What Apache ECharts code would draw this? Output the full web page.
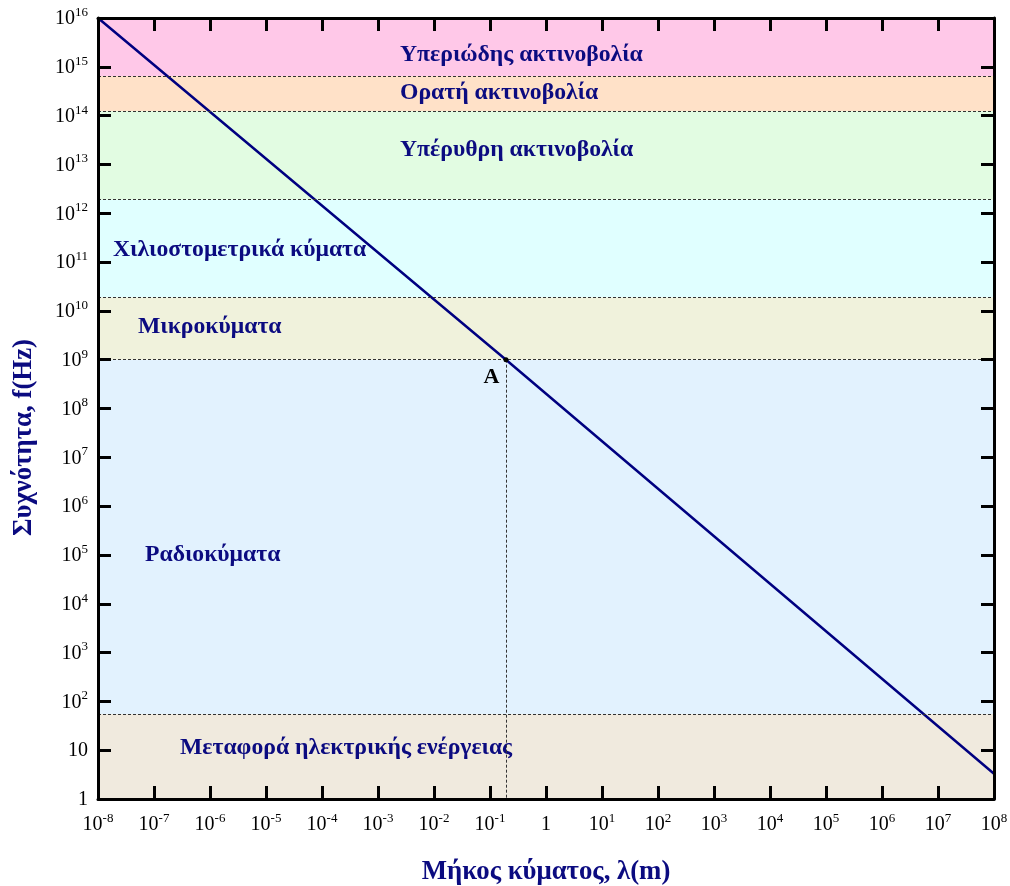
<!DOCTYPE html>
<html>
<head>
<meta charset="utf-8">
<script src="https://cdn.jsdelivr.net/npm/echarts@6/dist/echarts.min.js"></script>
<style>
html,body{margin:0;padding:0;background:#fff;}
#chart{width:1010px;height:886px;}
</style>
</head>
<body>
<div id="chart"></div>
<script>
// ---------- DATA ----------
// Wavelength (m) and frequency (Hz) of the plotted line
var lineLambda = [1e-8, 0.193, 1e8];
var lineFreq   = [1e16, 1e9, 3.3];

// Point A
var pointA = [0.193, 1e9];

// Spectrum band boundaries (Hz), bottom to top
var bandEdges  = [1, 55, 1e9, 1.9e10, 1.9e12, 1.25e14, 6.5e14, 1e16];
var bandColors = ['#F0EADE', '#E2F2FE', '#F0F2DC', '#E0FFFF', '#E2FCE2', '#FFE1C8', '#FFC8E8'];

// Band names and their anchor (lambda, f) in data space
var bandNames = ['Υπεριώδης ακτινοβολία', 'Ορατή ακτινοβολία', 'Υπέρυθρη ακτινοβολία',
                 'Χιλιοστομετρικά κύματα', 'Μικροκύματα', 'Ραδιοκύματα',
                 'Μεταφορά ηλεκτρικής ενέργειας'];
var bandLabelLambda = [Math.pow(10,-2.607), Math.pow(10,-2.607), Math.pow(10,-2.607),
                       Math.pow(10,-7.732), Math.pow(10,-7.286), Math.pow(10,-7.161),
                       Math.pow(10,-6.536)];
var bandLabelFreq   = [Math.pow(10,15.246), Math.pow(10,14.467), Math.pow(10,13.299),
                       Math.pow(10,11.25), Math.pow(10,9.672), Math.pow(10,5.0),
                       Math.pow(10,1.045)];

// Tick labels: [base, exponent] for exponents -8..8 (x) and 0..16 (y)
var xTickLabels = [['10','-8'],['10','-7'],['10','-6'],['10','-5'],['10','-4'],['10','-3'],['10','-2'],['10','-1'],
                   ['1',''],['10','1'],['10','2'],['10','3'],['10','4'],['10','5'],['10','6'],['10','7'],['10','8']];
var yTickLabels = [['1',''],['10',''],['10','2'],['10','3'],['10','4'],['10','5'],['10','6'],['10','7'],['10','8'],
                   ['10','9'],['10','10'],['10','11'],['10','12'],['10','13'],['10','14'],['10','15'],['10','16']];

var xTitle = 'Μήκος κύματος, λ(m)';
var yTitle = 'Συχνότητα, f(Hz)';

// ---------- CHART ----------
var NAVY = '#0b0b80';
var SERIF = '"Liberation Serif","Times New Roman",serif';

function fmt(labels, offset) {
  return function (v) {
    var e = Math.round(Math.log10(v));
    var l = labels[e + offset];
    if (!l) return '';
    return l[1] ? '{b|' + l[0] + '}{s|' + l[1] + '}' : '{b|' + l[0] + '}';
  };
}
var richTick = {
  b: {fontFamily: SERIF, fontSize: 20, color: '#000', verticalAlign: 'bottom', lineHeight: 22},
  s: {fontFamily: SERIF, fontSize: 13, color: '#000', verticalAlign: 'bottom', padding: [0, 0, 10, 0], lineHeight: 22}
};

var markAreaData = [];
for (var i = 0; i < bandColors.length; i++) {
  markAreaData.push([{yAxis: bandEdges[i], itemStyle: {color: bandColors[i]}}, {yAxis: bandEdges[i + 1]}]);
}
var markLineData = [];
for (var j = 1; j < bandEdges.length - 1; j++) {
  markLineData.push({yAxis: bandEdges[j]});
}
markLineData.push([{coord: [pointA[0], pointA[1]]}, {coord: [pointA[0], 1]}]);

var lineData = lineLambda.map(function (x, k) { return [x, lineFreq[k]]; });
var labelData = bandNames.map(function (n, k) { return {name: n, value: [bandLabelLambda[k], bandLabelFreq[k]]}; });

function axisCommon(extra) {
  var base = {
    type: 'log', logBase: 10, interval: 1, z: 10,
    axisLine: {show: true, onZero: false, lineStyle: {color: '#000', width: 3}},
    axisTick: {show: true, inside: true, length: 13, lineStyle: {color: '#000', width: 3}},
    minorTick: {show: false},
    splitLine: {show: false}
  };
  for (var k in extra) base[k] = extra[k];
  return base;
}

var chart = echarts.init(document.getElementById('chart'), null, {renderer: 'canvas'});
chart.setOption({
  backgroundColor: '#ffffff',
  animation: false,
  grid: {left: 98, right: 16, top: 18, bottom: 87, containLabel: false, outerBoundsMode: 'none'},
  xAxis: [
    axisCommon({
      position: 'bottom', min: 1e-8, max: 1e8,
      name: xTitle, nameLocation: 'middle', nameGap: 60,
      nameTextStyle: {fontFamily: SERIF, fontSize: 26.8, fontWeight: 'bold', color: NAVY},
      axisLabel: {show: true, margin: 14, formatter: fmt(xTickLabels, 8), rich: richTick}
    }),
    axisCommon({position: 'top', min: 1e-8, max: 1e8, axisLabel: {show: false}})
  ],
  yAxis: [
    axisCommon({
      position: 'left', min: 1, max: 1e16,
      name: yTitle, nameLocation: 'middle', nameGap: 60, nameRotate: 90,
      nameTextStyle: {fontFamily: SERIF, fontSize: 26.8, fontWeight: 'bold', color: NAVY, padding: [0, 58, 0, 0]},
      axisLabel: {show: true, margin: 10, formatter: fmt(yTickLabels, 0), rich: richTick}
    }),
    axisCommon({position: 'right', min: 1, max: 1e16, axisLabel: {show: false}})
  ],
  series: [
    {
      type: 'line', name: 'bands', data: [], xAxisIndex: 0, yAxisIndex: 0, z: 1,
      markArea: {silent: true, data: markAreaData},
      markLine: {
        silent: true, symbol: ['none', 'none'], label: {show: false},
        lineStyle: {color: '#333', width: 1, type: [3, 2]},
        data: markLineData
      }
    },
    {
      type: 'scatter', name: 'labels', data: labelData, z: 3,
      symbolSize: 0, itemStyle: {opacity: 1},
      label: {
        show: true, position: 'right', distance: 0, opacity: 1,
        formatter: '{b}', fontFamily: SERIF, fontSize: 23.7, fontWeight: 'bold', color: NAVY
      }
    },
    {
      type: 'line', name: 'line', data: lineData, z: 4,
      showSymbol: false, symbol: 'none', clip: true,
      lineStyle: {color: '#000080', width: 2.5}
    },
    {
      type: 'scatter', name: 'A', data: [{name: 'A', value: pointA}], z: 5,
      symbol: 'circle', symbolSize: 5, itemStyle: {color: '#000', opacity: 1},
      label: {
        show: true, position: 'left', distance: 0, offset: [-4, 18], opacity: 1,
        formatter: '{b}', fontFamily: SERIF, fontSize: 22, fontWeight: 'bold', color: '#000'
      }
    }
  ]
});
</script>
</body>
</html>
